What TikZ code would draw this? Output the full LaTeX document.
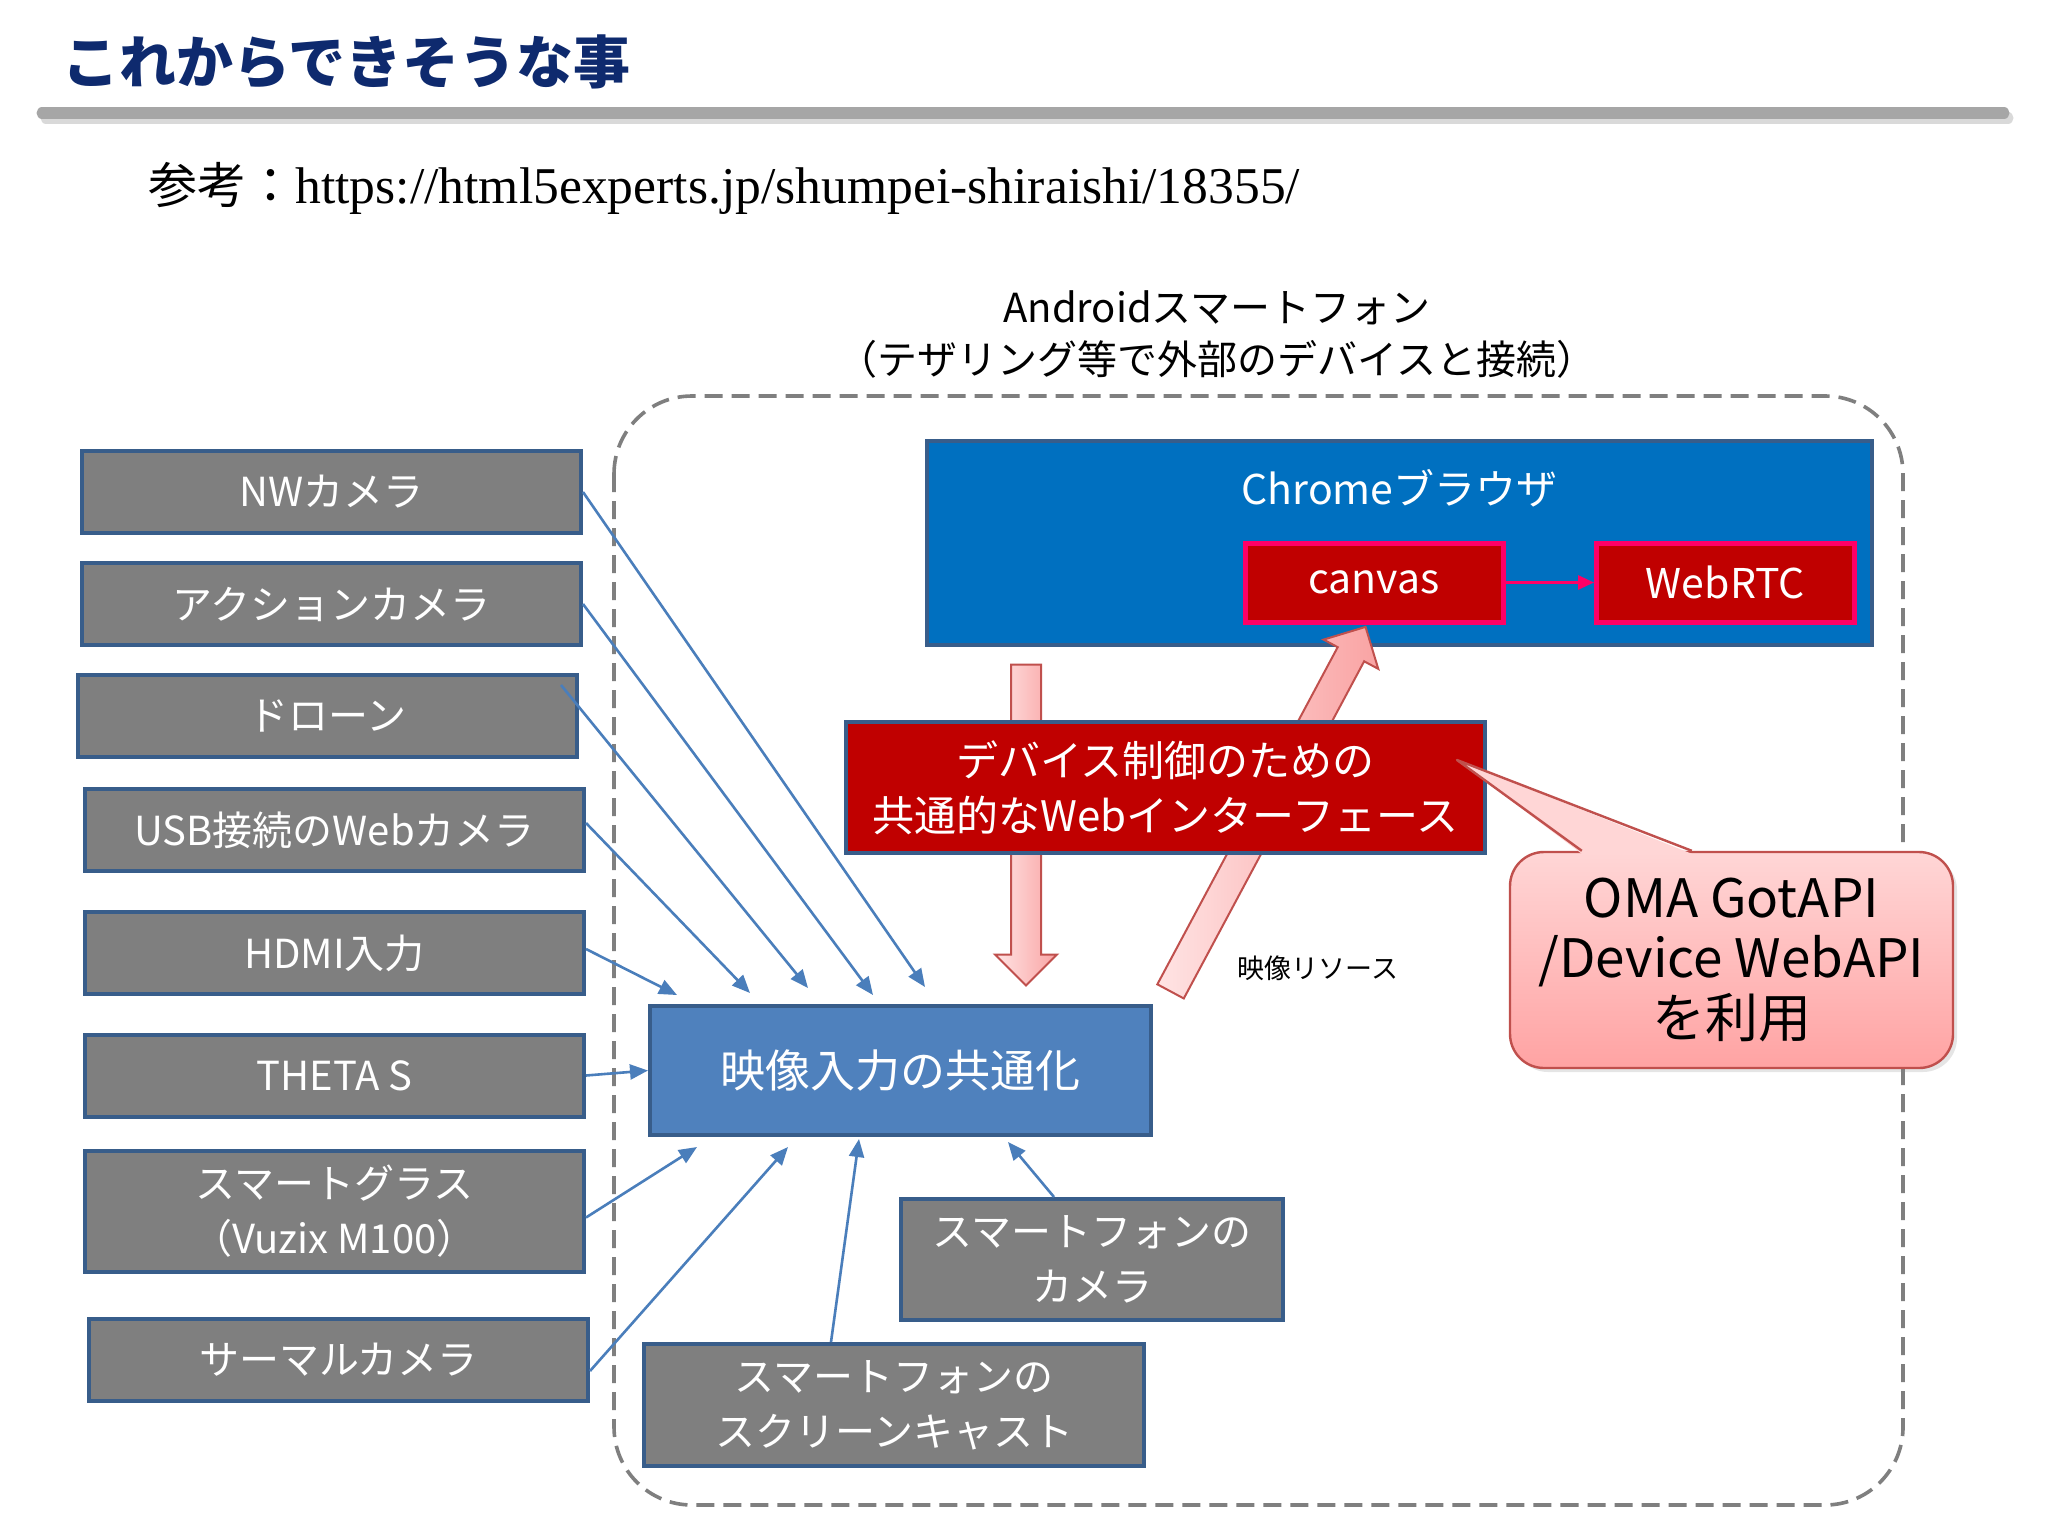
\documentclass[tikz,border=0pt]{standalone}
\usepackage{fontspec}
\setmainfont{Noto Sans CJK JP}
\newfontfamily\urlfont{Liberation Serif}
\definecolor{JNavy}{HTML}{0E2A6E}
\definecolor{JRule}{HTML}{A6A6A6}
\definecolor{JRuleShade}{HTML}{D9D9D9}
\definecolor{JGrayBox}{HTML}{7F7F7F}
\definecolor{JEdge}{HTML}{385D8A}
\definecolor{JFeed}{HTML}{4A7EBB}
\definecolor{JFrame}{HTML}{7F7F7F}
\definecolor{JChrome}{HTML}{0070C0}
\definecolor{JRed}{HTML}{C00000}
\definecolor{JHot}{HTML}{FF0066}
\definecolor{JVin}{HTML}{4F81BD}
\definecolor{JPinkPale}{HTML}{FFE4E4}
\definecolor{JPinkDeep}{HTML}{F9A3A3}
\definecolor{JPinkEdge}{HTML}{C0504D}
\definecolor{JCallTop}{HTML}{FFD6D6}
\definecolor{JCallBot}{HTML}{FFA3A3}
\usepackage{tikz}
\usetikzlibrary{arrows.meta,positioning,calc,shapes.arrows,shadows}

\begin{document}
\begin{tikzpicture}[x=0.5pt,y=-0.5pt,
    srcbox/.style={rectangle,fill=JGrayBox,draw=JEdge,line width=2pt,text=white,
      minimum width=249.5pt,minimum height=41pt,inner sep=0pt,align=center,
      font=\fontsize{20}{27.5}\selectfont},
    hotbox/.style={rectangle,fill=JRed,draw=JHot,line width=2.5pt,text=white,
      minimum width=129pt,minimum height=39.5pt,inner sep=0pt,
      font=\fontsize{20.5}{24}\selectfont},
    feed/.style={draw=JFeed,line width=1.3pt,-{Triangle[length=9pt,width=7.5pt]}},
    blockarrow/.style={single arrow,draw=JPinkEdge,line width=1pt,
      left color=JPinkPale,right color=JPinkDeep,inner sep=0pt,inner ysep=7pt,
      single arrow head extend=8pt,single arrow tip angle=90}]
  \useasboundingbox (0,0) rectangle (2048,1536);
  \fill[white] (0,0) rectangle (2048,1536);

  \node[anchor=west,inner sep=0pt,text=JNavy,
        font=\fontsize{28.5}{34}\selectfont\bfseries] (title) at (62,62) {これからできそうな事};
  \draw[JRuleShade,line width=5.5pt,line cap=round] (46,118) -- (2008,118);
  \draw[JRule,line width=5.5pt,line cap=round] (42,113) -- (2004,113);
  \node[anchor=base west,inner sep=0pt,font=\fontsize{24.5}{28}\selectfont] (ref) at (148,203)
    {参考：{\urlfont\fontsize{25.8}{28}\selectfont https://html5experts.jp/shumpei-shiraishi/18355/}};

  \node[align=center,font=\fontsize{20}{26}\selectfont] (phone) at (1217,334)
    {Androidスマートフォン\\（テザリング等で外部のデバイスと接続）};
  \draw[JFrame,line width=1.8pt,dash pattern=on 9pt off 4.5pt,rounded corners=39pt]
    (614,396) rectangle (1903,1505);

  \node[srcbox] (nw)    at (331.5,492)    {NWカメラ};
  \node[srcbox] (act)   at (331.5,604)    {アクションカメラ};
  \node[srcbox] (drone) at (327.5,716)    {ドローン};
  \node[srcbox] (usb)   at (334.5,830)    {USB接続のWebカメラ};
  \node[srcbox] (hdmi)  at (334.5,953)    {HDMI入力};
  \node[srcbox] (theta) at (334.5,1075.5) {THETA S};
  \node[srcbox,minimum height=60.5pt] (glass) at (334.5,1211.5) {スマートグラス\\（Vuzix M100）};
  \node[srcbox] (therm) at (338.5,1360)   {サーマルカメラ};

  \node[rectangle,fill=JChrome,draw=JEdge,line width=2pt,
        minimum width=472.5pt,minimum height=102pt] (chrome) at (1399.5,543) {};
  \node[text=white,font=\fontsize{20.5}{24}\selectfont] (chromeT)
    at ([yshift=-24.5pt]chrome.north) {Chromeブラウザ};
  \node[hotbox] (canvas) at (1374,582.5)   {canvas};
  \node[hotbox] (webrtc) at (1725.5,582.5) {WebRTC};
  \draw[JHot,line width=1.5pt,-{Triangle[length=8pt,width=7pt]}] (canvas) -- (webrtc);

  \node[rectangle,fill=JVin,draw=JEdge,line width=2pt,text=white,
        minimum width=250.5pt,minimum height=64.5pt,
        font=\fontsize{22.5}{26}\selectfont] (vin) at (900.5,1070.5) {映像入力の共通化};
  \node[srcbox,minimum width=191pt,minimum height=60.5pt] (spcam) at (1092,1259.5)
    {スマートフォンの\\カメラ};
  \node[srcbox,minimum width=250pt,minimum height=61pt] (spcast) at (894,1405)
    {スマートフォンの\\スクリーンキャスト};

  \draw[feed] (nw.east) -- ([xshift=138.5pt,yshift=8.5pt]vin.north west);
  \draw[feed] (act.east) -- ([xshift=112.5pt,yshift=4.5pt]vin.north west);
  \draw[feed] ([xshift=-9pt,yshift=-6pt]drone.north east) -- ([xshift=80pt,yshift=8pt]vin.north west);
  \draw[feed] ([yshift=3.5pt]usb.east) -- ([xshift=51pt,yshift=5.5pt]vin.north west);
  \draw[feed] ([yshift=2pt]hdmi.east) -- ([xshift=14.5pt,yshift=4.5pt]vin.north west);
  \draw[feed] (theta.east) -- (vin.west);
  \draw[feed] ([yshift=-3pt]glass.east) -- ([xshift=24.5pt,yshift=-5pt]vin.south west);
  \draw[feed] ([yshift=-5.5pt]therm.east) -- ([xshift=70pt,yshift=-5pt]vin.south west);
  \draw[feed] ([xshift=-31.5pt]spcast.north) -- ([xshift=105.5pt,yshift=-1pt]vin.south west);
  \draw[feed] ([xshift=-19pt]spcam.north) -- ([xshift=180pt,yshift=-2.5pt]vin.south west);

  % block arrows between browser and video input
  \coordinate (dnTail) at ([xshift=50.5pt,yshift=-5pt]chrome.south west);
  \coordinate (dnTip)  at ([xshift=189pt,yshift=13pt]vin.north west);
  \coordinate (upTail) at ([xshift=7pt,yshift=3pt]vin.north east);
  \coordinate (upTip)  at ([xshift=-6pt,yshift=-4.5pt]canvas.south);
  \path let \p1=($(dnTip)-(dnTail)$), \n1={veclen(\x1,\y1)}, \n2={atan2(\y1,\x1)} in
    node[blockarrow,minimum height=\n1,rotate=\n2] (down) at ($(dnTail)!0.5!(dnTip)$) {};
  \path let \p1=($(upTip)-(upTail)$), \n1={veclen(\x1,\y1)}, \n2={atan2(\y1,\x1)} in
    node[blockarrow,minimum height=\n1,rotate=\n2] (up) at ($(upTail)!0.5!(upTip)$) {};

  \node[rectangle,fill=JRed,draw=JEdge,line width=2pt,text=white,align=center,
        minimum width=319.5pt,minimum height=65.5pt,
        font=\fontsize{21}{27.5}\selectfont] (ctrl) at (1165.5,787.5)
    {デバイス制御のための\\共通的なWebインターフェース};
  \node[font=\fontsize{13.5}{16}\selectfont] (res) at (1318,968) {映像リソース};

  \node[rectangle,rounded corners=17pt,draw=JPinkEdge,line width=1.2pt,
        top color=JCallTop,bottom color=JCallBot,align=center,
        drop shadow={opacity=0.2,shadow xshift=2pt,shadow yshift=-2pt},
        minimum width=221.5pt,minimum height=108pt,
        font=\fontsize{26.5}{30}\selectfont] (oma) at (1731.5,960)
    {OMA GotAPI\\/Device WebAPI\\を利用};
  \coordinate (omaTip) at ([xshift=-15pt,yshift=-20pt]ctrl.north east);
  \fill[JCallTop] ([xshift=36.5pt,yshift=-1.5pt]oma.north west) -- (omaTip)
    -- ([xshift=91.5pt,yshift=-1.5pt]oma.north west) -- cycle;
  \draw[JPinkEdge,line width=1.2pt,line join=round] ([xshift=36.5pt]oma.north west)
    -- (omaTip) -- ([xshift=91.5pt]oma.north west);
\end{tikzpicture}
\end{document}
